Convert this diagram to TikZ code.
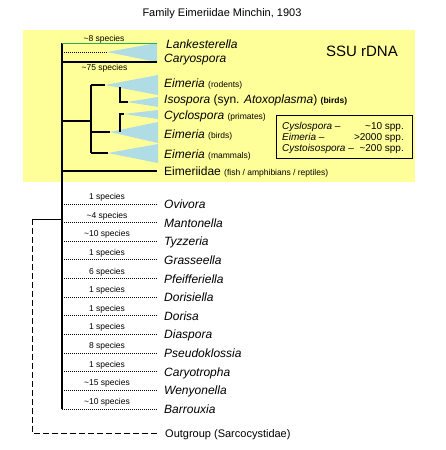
\documentclass[tikz,border=0pt]{standalone}
\usepackage{fontspec}
\setmainfont{Liberation Sans}
\definecolor{yellowbg}{RGB}{255,255,153}
\definecolor{triblue}{RGB}{176,220,230}
\definecolor{treegreen}{RGB}{40,170,80}
\begin{document}
\begin{tikzpicture}[x=1pt,y=-1pt,
  tree/.style={line width=1.1pt, black},
  dotbranch/.style={line width=1pt, densely dotted},
  outline/.style={line width=1pt, dash pattern=on 5.5pt off 3.5pt},
  tri/.style={fill=triblue, draw=none},
  genus/.style={anchor=base west, font=\fontsize{12}{14}\selectfont\itshape, inner sep=0pt},
  plain/.style={anchor=base west, font=\fontsize{12}{14}\selectfont, inner sep=0pt},
  spec/.style={anchor=base, font=\fontsize{8.5}{10}\selectfont, inner sep=0pt},
  boxtxt/.style={font=\fontsize{10}{12}\selectfont, inner sep=0pt}
]
\useasboundingbox (0,0) rectangle (445,450);
\fill[white] (0,0) rectangle (445,450);
\fill[yellowbg] (23,30) rectangle (415,182);

\node[font=\fontsize{11}{13}\selectfont, anchor=base] (title) at (222,16) {Family Eimeriidae Minchin, 1903};
\node[font=\fontsize{15}{18}\selectfont, anchor=base] (ssu) at (362,56) {SSU rDNA};

% triangles
\fill[tri] (107,52) -- (157,43) -- (157,62) -- cycle;
\fill[tri] (105,85) -- (158,75) -- (158,95) -- cycle;
\fill[tri] (127,102) -- (158,97) -- (158,107) -- cycle;
\fill[tri] (124,114) -- (158,110) -- (158,119) -- cycle;
\fill[tri] (110,132) -- (158,122) -- (158,143) -- cycle;
\fill[tri] (108,153) -- (158,144) -- (158,163) -- cycle;

% coordinates
\coordinate (root) at (62,43);
\coordinate (bottom) at (62,409);
\coordinate (lank) at (157,43);
\coordinate (caryJ) at (62,62);
\coordinate (cary) at (157,62);
\coordinate (dotJ) at (62,52);
\coordinate (dotE) at (107,52);
\coordinate (eimJ) at (62,121);
\coordinate (eimN) at (91,121);
\coordinate (eimTop) at (91,85);
\coordinate (eimBot) at (91,153);
\coordinate (rodE) at (105,85);
\coordinate (isoTop) at (120,87);
\coordinate (isoB) at (120,102);
\coordinate (isoE) at (128,102);
\coordinate (birdE) at (110,132);
\coordinate (cycB) at (120,132);
\coordinate (cycT) at (120,114);
\coordinate (cycE) at (124,114);
\coordinate (mamE) at (108,153);
\coordinate (fishJ) at (62,171);
\coordinate (fishE) at (157,171);

% tree lines
\draw[tree] (root) -- (bottom);
\draw[line width=1pt, treegreen] (root) -- (lank);
\draw[dotbranch] (dotJ) -- (dotE);
\draw[tree] (caryJ) -- (cary);
\draw[tree] (eimJ) -- (eimN);
\draw[tree] (eimTop) -- (eimBot);
\draw[tree] (eimTop) -- (rodE);
\draw[tree] (isoTop) -- (isoB) -- (isoE);
\draw[tree] (eimN |- birdE) -- (birdE);
\draw[tree] (cycB) -- (cycT) -- (cycE);
\draw[tree] (eimBot) -- (mamE);
\draw[tree] (fishJ) -- (fishE);

% top labels
\node[spec] (s8) at (104,41.5) {\textasciitilde8 species};
\node[spec] (s75) at (104.5,70.5) {\textasciitilde75 species};
\node[genus] (nLank) at (166,48) {Lankesterella};
\node[genus] (nCary) at (164,62) {Caryospora};
\node[genus] (nRod) at (164,87) {Eimeria \upshape\fontsize{8.5}{10}\selectfont(rodents)};
\node[genus] (nIso) at (164,103) {Isospora \upshape(syn. \itshape Atoxoplasma\upshape) \bfseries\fontsize{8.5}{10}\selectfont(birds)};
\node[genus] (nCyc) at (164,119) {Cyclospora \upshape\fontsize{8.5}{10}\selectfont(primates)};
\node[genus] (nBird) at (164,138) {Eimeria \upshape\fontsize{8.5}{10}\selectfont(birds)};
\node[genus] (nMam) at (164,158) {Eimeria \upshape\fontsize{8.5}{10}\selectfont(mammals)};
\node[plain] (nFish) at (164,175) {Eimeriidae \fontsize{8.5}{10}\selectfont(fish / amphibians / reptiles)};

% info box
\draw[line width=0.6pt] (276,115) rectangle (412,158);
\node[boxtxt, anchor=base west] (b1) at (282,129.5) {\itshape Cyslospora –};
\node[boxtxt, anchor=base east] (b1r) at (404,129.5) {\textasciitilde10 spp.};
\node[boxtxt, anchor=base west] (b2) at (282,140.5) {\itshape Eimeria –};
\node[boxtxt, anchor=base east] (b2r) at (404,140.5) {>2000 spp.};
\node[boxtxt, anchor=base west] (b3) at (282,151.5) {\itshape Cystoisospora \upshape–};
\node[boxtxt, anchor=base east] (b3r) at (404,151.5) {\textasciitilde200 spp.};

% lower branches
\foreach \i/\g/\s in {0/Ovivora/1 species, 1/Mantonella/\textasciitilde4 species, 2/Tyzzeria/\textasciitilde10 species, 3/Grasseella/1 species, 4/Pfeifferiella/6 species, 5/Dorisiella/1 species, 6/Dorisa/1 species, 7/Diaspora/1 species, 8/Pseudoklossia/8 species, 9/Caryotropha/1 species, 10/Wenyonella/\textasciitilde15 species, 11/Barrouxia/\textasciitilde10 species}{
  \pgfmathsetmacro{\yy}{204+18.64*\i}
  \coordinate (L\i) at (62,\yy);
  \coordinate (R\i) at (157,\yy);
  \draw[dotbranch] (L\i) -- (R\i);
  \node[spec] (sp\i) at (107,\yy-4.5) {\s};
  \node[genus] (g\i) at (164,\yy+4.5) {\g};
}

% outgroup
\coordinate (ogJ) at (62,219);
\coordinate (ogC) at (32,219);
\coordinate (ogB) at (32,433);
\coordinate (ogE) at (157,433);
\draw[tree, line width=1pt] (ogJ) -- (ogC);
\draw[outline] (ogC) -- (ogB) -- (ogE);
\node[plain, font=\fontsize{11}{13}\selectfont] (og) at (165,437) {Outgroup (Sarcocystidae)};
\end{tikzpicture}
\end{document}
